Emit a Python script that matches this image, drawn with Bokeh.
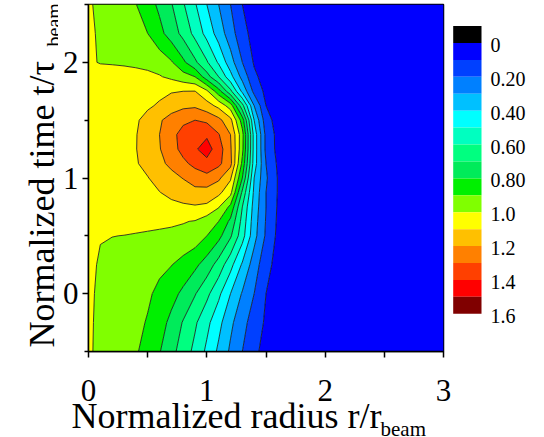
import numpy as np
from math import pi
from bokeh.plotting import figure
from bokeh.layouts import row, column
from bokeh.models import Range1d, FixedTicker, Plot
from bokeh.core.properties import value
from bokeh.embed import file_html
from bokeh.resources import INLINE

# ---- data (normalized radius r, normalized time t, field value) ----
R_VALUES = [0.0, 0.1, 0.2, 0.3, 0.4, 0.5, 0.6, 0.7, 0.8, 0.9, 1.0, 1.1, 1.2, 1.3, 1.4, 1.5, 1.6, 1.7, 3.0]
T_VALUES = [-0.5, -0.25, 0.0, 0.25, 0.5, 0.625, 0.75, 0.875, 1.0, 1.125, 1.25, 1.375, 1.5, 1.625, 1.75, 1.875, 2.0, 2.25, 2.5]

Z_T_M0500 = [1.01, 0.983, 0.959, 0.934, 0.910, 0.865, 0.806, 0.731, 0.654, 0.573, 0.48, 0.38, 0.283, 0.2, 0.123, 0.065, 0.04, 0.025, 0.01]
Z_T_M0250 = [1.01, 0.986, 0.964, 0.942, 0.92, 0.894, 0.839, 0.775, 0.692, 0.615, 0.527, 0.43, 0.322, 0.233, 0.154, 0.085, 0.045, 0.03, 0.01]
Z_T_0000 = [1.012, 0.988, 0.969, 0.95, 0.931, 0.912, 0.881, 0.833, 0.779, 0.707, 0.625, 0.522, 0.4, 0.291, 0.2, 0.1, 0.05, 0.03, 0.01]
Z_T_0250 = [1.015, 0.993, 0.978, 0.963, 0.948, 0.933, 0.918, 0.903, 0.865, 0.822, 0.755, 0.66, 0.533, 0.386, 0.25, 0.133, 0.065, 0.04, 0.01]
Z_T_0500 = [1.02, 1.003, 1.001, 0.999, 0.996, 0.993, 0.99, 0.985, 0.975, 0.955, 0.9, 0.829, 0.714, 0.54, 0.333, 0.185, 0.078, 0.045, 0.01]
Z_T_0625 = [1.03, 1.027, 1.025, 1.022, 1.018, 1.015, 1.012, 1.01, 1.005, 0.995, 0.948, 0.9, 0.778, 0.567, 0.345, 0.193, 0.085, 0.05, 0.01]
Z_T_0750 = [1.04, 1.042, 1.045, 1.05, 1.055, 1.06, 1.07, 1.08, 1.085, 1.09, 1.08, 1.007, 0.875, 0.6, 0.36, 0.2, 0.09, 0.05, 0.01]
Z_T_0875 = [1.05, 1.055, 1.06, 1.068, 1.075, 1.086, 1.098, 1.119, 1.144, 1.168, 1.162, 1.125, 1.03, 0.68, 0.378, 0.2, 0.095, 0.05, 0.01]
Z_T_1000 = [1.055, 1.061, 1.068, 1.078, 1.087, 1.097, 1.127, 1.165, 1.204, 1.249, 1.266, 1.219, 1.114, 0.8, 0.4, 0.214, 0.095, 0.05, 0.01]
Z_T_1125 = [1.06, 1.066, 1.072, 1.083, 1.094, 1.121, 1.174, 1.226, 1.279, 1.326, 1.37, 1.323, 1.229, 0.875, 0.45, 0.2, 0.085, 0.045, 0.01]
Z_T_1250 = [1.06, 1.067, 1.075, 1.086, 1.097, 1.139, 1.194, 1.264, 1.329, 1.388, 1.443, 1.347, 1.215, 0.925, 0.46, 0.175, 0.072, 0.04, 0.01]
Z_T_1375 = [1.06, 1.067, 1.075, 1.085, 1.096, 1.138, 1.2, 1.271, 1.335, 1.39, 1.385, 1.306, 1.2, 0.933, 0.46, 0.173, 0.07, 0.04, 0.01]
Z_T_1500 = [1.06, 1.065, 1.07, 1.08, 1.092, 1.12, 1.187, 1.243, 1.28, 1.30, 1.28, 1.227, 1.129, 0.85, 0.4, 0.14, 0.06, 0.035, 0.01]
Z_T_1625 = [1.05, 1.055, 1.06, 1.07, 1.08, 1.091, 1.108, 1.15, 1.178, 1.185, 1.141, 1.073, 0.95, 0.633, 0.3, 0.1, 0.05, 0.03, 0.01]
Z_T_1750 = [1.04, 1.045, 1.05, 1.057, 1.065, 1.075, 1.085, 1.093, 1.1, 1.102, 1.018, 0.84, 0.625, 0.375, 0.171, 0.075, 0.04, 0.03, 0.01]
Z_T_1875 = [1.03, 1.035, 1.035, 1.03, 1.025, 1.02, 1.007, 0.98, 0.94, 0.9, 0.743, 0.6, 0.433, 0.267, 0.12, 0.058, 0.035, 0.025, 0.01]
Z_T_2000 = [1.01, 0.996, 0.993, 0.99, 0.985, 0.975, 0.955, 0.91, 0.82, 0.72, 0.611, 0.486, 0.343, 0.2, 0.09, 0.05, 0.03, 0.02, 0.01]
Z_T_2250 = [1.015, 0.989, 0.967, 0.944, 0.922, 0.9, 0.829, 0.754, 0.67, 0.57, 0.467, 0.356, 0.244, 0.133, 0.065, 0.04, 0.03, 0.02, 0.01]
Z_T_2500 = [1.01, 0.982, 0.955, 0.929, 0.903, 0.844, 0.779, 0.707, 0.61, 0.51, 0.4, 0.3, 0.2, 0.1, 0.05, 0.03, 0.025, 0.02, 0.01]

LEVELS = [0.0, 0.1, 0.2, 0.3, 0.4, 0.5, 0.6, 0.7, 0.8, 0.9, 1.0, 1.1, 1.2, 1.3, 1.4, 1.5, 1.6]
FILL_COLORS = ["#0000FF", "#0040FF", "#0080FF", "#00C0FF", "#00FFFF", "#00FFC0",
               "#00FF80", "#00EB5A", "#00F000", "#80FF00", "#FFFF00", "#FFC000",
               "#FF8000", "#FF4000", "#FF0000", "#800000"]

X_TICKS = [0, 1, 2, 3]
X_TICK_LABELS = ["0", "1", "2", "3"]
X_MINOR = [0.5, 1.5, 2.5]
Y_TICKS = [0, 1, 2]
Y_MINOR = [-0.5, 0.5, 1.5, 2.5]

CB_LEVELS = [-0.1, 0.0, 0.1, 0.2, 0.3, 0.4, 0.5, 0.6, 0.7, 0.8, 0.9, 1.0, 1.1, 1.2, 1.3, 1.4, 1.5, 1.6]
CB_COLORS = ["#000000"] + FILL_COLORS
CB_TICKS = [0.0, 0.2, 0.4, 0.6, 0.8, 1.0, 1.2, 1.4, 1.6]
CB_LABELS = ["0", "0.20", "0.40", "0.60", "0.80", "1.0", "1.2", "1.4", "1.6"]

Z = np.array([Z_T_M0500, Z_T_M0250, Z_T_0000, Z_T_0250, Z_T_0500, Z_T_0625, Z_T_0750,
              Z_T_0875, Z_T_1000, Z_T_1125, Z_T_1250, Z_T_1375, Z_T_1500, Z_T_1625,
              Z_T_1750, Z_T_1875, Z_T_2000, Z_T_2250, Z_T_2500])

FONT = "Liberation Serif"

# layout geometry (pixels)
LEFT_W = 58          # strip holding the y-axis title
BORDER_L = 30        # main figure left border (y tick labels)
FRAME_W = 355
BORDER_R = 9
FRAME_H = 347
BORDER_T = 4
BORDER_B = 12
MID_W = BORDER_L + FRAME_W + BORDER_R      # 394
MAIN_H = BORDER_T + FRAME_H + BORDER_B     # 363
TOTAL_H = 437
STRIP_H = TOTAL_H - MAIN_H                 # 74
CB_W = 544 - LEFT_W - MID_W                # 92

X_START, X_END = 0.0, 3.0
px_per_unit = FRAME_W / (X_END - X_START)

HAS_FRAME_ALIGN = "frame_align" in Plot.properties()


def no_align(fig):
    if HAS_FRAME_ALIGN:
        fig.frame_align = False
    return fig


def blank(fig):
    fig.grid.visible = False
    fig.outline_line_color = None
    fig.background_fill_color = "white"
    fig.border_fill_color = "white"
    return no_align(fig)


p = figure(frame_width=FRAME_W, frame_height=FRAME_H,
           min_border_left=BORDER_L, min_border_right=BORDER_R,
           min_border_top=BORDER_T, min_border_bottom=BORDER_B,
           x_range=Range1d(X_START, X_END), y_range=Range1d(-0.5, 2.5),
           output_backend="svg", toolbar_location=None, tools="")
no_align(p)
p.contour(x=R_VALUES, y=T_VALUES, z=Z, levels=LEVELS,
          fill_color=FILL_COLORS, line_color="#111111", line_width=0.8)

# x axis: tick marks only (its numbers are drawn in the strip below with the same scale)
p.xaxis.ticker = FixedTicker(ticks=[], minor_ticks=X_TICKS + X_MINOR)
p.yaxis.ticker = FixedTicker(ticks=Y_TICKS, minor_ticks=Y_MINOR)
for ax in (p.xaxis[0], p.yaxis[0]):
    ax.major_label_text_font = FONT
    ax.major_label_text_font_size = "31px"
    ax.major_label_text_color = "black"
    ax.axis_line_width = 1.5
    ax.axis_line_color = "black"
    ax.major_tick_line_width = 1.5
    ax.minor_tick_line_width = 1.5
    ax.major_tick_line_color = "black"
    ax.minor_tick_line_color = "black"
    ax.major_tick_in = 0
    ax.major_tick_out = 6
    ax.minor_tick_in = 0
    ax.minor_tick_out = 4
p.xaxis.minor_tick_out = 6
p.xaxis.major_label_standoff = 0
p.yaxis.major_label_standoff = 4
p.xgrid.visible = False
p.ygrid.visible = False
p.outline_line_color = "black"
p.outline_line_width = 1.5
p.background_fill_color = "white"
p.border_fill_color = "white"

# strip below the plot: x tick numbers + x-axis title, x scale aligned with the main frame
strip = figure(width=MID_W, height=STRIP_H,
               x_range=Range1d(X_START - BORDER_L / px_per_unit, X_END + BORDER_R / px_per_unit),
               y_range=Range1d(0, STRIP_H), min_border=0,
               x_axis_location=None, y_axis_location=None,
               output_backend="svg", toolbar_location=None, tools="")
blank(strip)
strip.text(x=X_TICKS, y=[TOTAL_H - 390] * len(X_TICKS), text=X_TICK_LABELS,
           text_font=value(FONT), text_font_size="31px", text_color="black",
           text_align="center", text_baseline="alphabetic")
strip.text(x=[(71 - 88) / px_per_unit], y=[TOTAL_H - 415], text=["Normalized radius r/r"],
           text_font=value(FONT), text_font_size="36px", text_color="black",
           text_align="left", text_baseline="alphabetic")
strip.text(x=[(380 - 88) / px_per_unit], y=[TOTAL_H - 428], text=["beam"],
           text_font=value(FONT), text_font_size="21px", text_color="black",
           text_align="left", text_baseline="alphabetic")

# strip at the left: y-axis title (rotated)
ylab = figure(width=LEFT_W, height=TOTAL_H, x_range=Range1d(0, LEFT_W), y_range=Range1d(0, TOTAL_H),
              min_border=0, x_axis_location=None, y_axis_location=None,
              output_backend="svg", toolbar_location=None, tools="")
blank(ylab)
ylab.text(x=[41], y=[TOTAL_H - 347], text=["Normalized time t/\u03c4"], angle=pi / 2,
          text_font=value(FONT), text_font_size="36px", text_color="black",
          text_align="left", text_baseline="alphabetic")
ylab.text(x=[53], y=[TOTAL_H - 46], text=["beam"], angle=pi / 2,
          text_font=value(FONT), text_font_size="20px", text_color="black",
          text_align="left", text_baseline="alphabetic")

# colour bar
cb = figure(width=CB_W, height=TOTAL_H, x_range=Range1d(0, CB_W), y_range=Range1d(2.331, -0.251),
            min_border=0, x_axis_location=None, y_axis_location=None,
            output_backend="svg", toolbar_location=None, tools="")
blank(cb)
cb.quad(left=0.7, right=29, bottom=CB_LEVELS[:-1], top=CB_LEVELS[1:],
        fill_color=CB_COLORS, line_color=None)
cb.text(x=38, y=CB_TICKS, text=CB_LABELS, text_font=value(FONT), text_font_size="20px",
        text_color="black", text_baseline="middle", text_align="left", y_offset=2)

layout = row(ylab, column(p, strip), cb)
open("out.html", "w").write(file_html(layout, INLINE))
